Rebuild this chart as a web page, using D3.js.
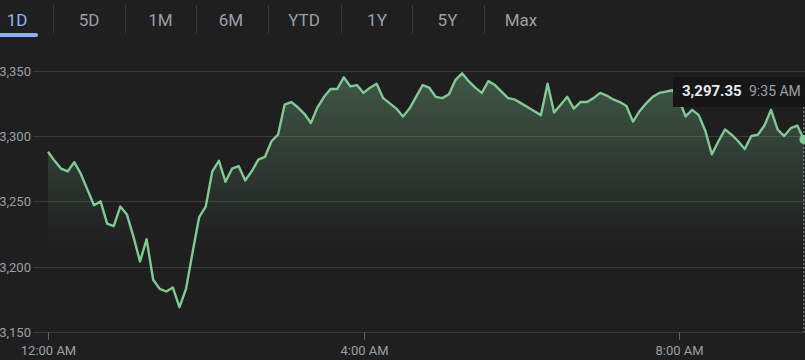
<!DOCTYPE html>
<html>
<head>
<meta charset="utf-8">
<script src="https://cdn.jsdelivr.net/npm/d3@7"></script>
<style>
  html, body { margin: 0; padding: 0; background: #1f1f1f; }
  #chart { width: 805px; height: 360px; }
</style>
</head>
<body>
<div id="chart"></div>
<script>
/* ── Data ────────────────────────────────────────────────────────────── */
const RANGE_TABS  = ['1D', '5D', '1M', '6M', 'YTD', '1Y', '5Y', 'Max'];
const Y_TICKS     = [3150, 3200, 3250, 3300, 3350];
const X_TICKS     = [0, 240, 480];               // minutes after midnight
const X_LABELS    = ['12:00 AM', '4:00 AM', '8:00 AM'];
const STEP_MIN    = 5;                           // one quote every 5 minutes
const PRICES = [
  3288, 3281, 3275, 3273, 3280, 3271, 3259, 3247, 3250, 3233,
  3231, 3246, 3240, 3223, 3204, 3221, 3190, 3183, 3181, 3184,
  3169, 3183, 3211, 3238, 3246, 3273, 3281, 3265, 3275, 3277,
  3266, 3273, 3282, 3284, 3296, 3301, 3324, 3326, 3322, 3317,
  3310, 3322, 3330, 3336, 3336, 3345, 3338, 3339, 3333, 3337,
  3340, 3329, 3325, 3321, 3315, 3321, 3330, 3339, 3337, 3330,
  3329, 3332, 3343, 3348, 3342, 3337, 3333, 3342, 3339, 3334,
  3329, 3328, 3325, 3322, 3319, 3316, 3340, 3318, 3324, 3330,
  3321, 3326, 3326, 3329, 3333, 3331, 3328, 3326, 3323, 3311,
  3319, 3325, 3330, 3333, 3334, 3335, 3328, 3315, 3320, 3316,
  3304, 3286, 3296, 3305, 3301, 3296, 3290, 3300, 3301, 3308,
  3320, 3305, 3300, 3306, 3308, 3297.35
];
const LAST_PRICE  = '3,297.35';
const LAST_TIME   = '9:35 AM';

/* ── Look ────────────────────────────────────────────────────────────── */
const W = 805, H = 360;
const BG     = '#1f1f1f';
const GREEN  = '#81c995';
const GRID   = '#3c3c3c';
const MUTED  = '#9aa0a6';
const BLUE   = '#8ab4f8';
const FONT   = 'Roboto, sans-serif';

const svg = d3.select('#chart').append('svg')
  .attr('width', W).attr('height', H)
  .attr('viewBox', `0 0 ${W} ${H}`);

svg.append('rect').attr('width', W).attr('height', H).attr('fill', BG);

/* ── Range tabs ──────────────────────────────────────────────────────── */
const tabX = d3.scalePoint().domain(RANGE_TABS).range([17, 521]);
// tab widths differ a little in the original, nudge by label
const tabNudge = { '1D': 0, '5D': 0, '1M': -0.5, '6M': -2, 'YTD': -1, '1Y': 0, '5Y': -1.5, 'Max': 0 };

const tabs = svg.append('g').attr('class', 'tabs');
RANGE_TABS.forEach((t, i) => {
  const cx = tabX(t) + tabNudge[t];
  tabs.append('text')
    .attr('x', cx).attr('y', 26)
    .attr('text-anchor', 'middle')
    .attr('font-family', FONT).attr('font-size', '17px')
    .attr('fill', i === 0 ? BLUE : MUTED)
    .text(t);
  if (i < RANGE_TABS.length - 1) {
    const nx = tabX(RANGE_TABS[i + 1]) + tabNudge[RANGE_TABS[i + 1]];
    const sx = Math.round((cx + nx) / 2) + 0.5;
    tabs.append('line')
      .attr('x1', sx).attr('x2', sx).attr('y1', 5).attr('y2', 33)
      .attr('stroke', GRID).attr('stroke-width', 1);
  }
});
tabs.append('rect')
  .attr('x', -4).attr('y', 33).attr('width', 42).attr('height', 4)
  .attr('rx', 2).attr('fill', BLUE);

/* ── Scales ──────────────────────────────────────────────────────────── */
const pts = PRICES.map((v, i) => ({ t: i * STEP_MIN, v }));

const x = d3.scaleLinear().domain([0, 240]).range([48, 363.5]);
const y = d3.scaleLinear().domain([3150, 3350]).range([332, 70.7]);

/* ── Grid + y labels ─────────────────────────────────────────────────── */
const grid = svg.append('g');
Y_TICKS.forEach(v => {
  const gy = Math.round(y(v)) + 0.5;
  grid.append('line')
    .attr('x1', 33).attr('x2', W).attr('y1', gy).attr('y2', gy)
    .attr('stroke', GRID).attr('stroke-width', 1);
  grid.append('text')
    .attr('x', 31).attr('y', gy + 4.5)
    .attr('text-anchor', 'end')
    .attr('font-family', FONT).attr('font-size', '13px')
    .attr('fill', MUTED)
    .text(d3.format(',')(v));
});

/* ── X axis ticks ────────────────────────────────────────────────────── */
X_TICKS.forEach((t, i) => {
  const tx = Math.round(x(t)) + 0.5;
  grid.append('line')
    .attr('x1', tx).attr('x2', tx).attr('y1', y(3150)).attr('y2', y(3150) + 8)
    .attr('stroke', '#5f6368').attr('stroke-width', 1);
  grid.append('text')
    .attr('x', tx).attr('y', 355)
    .attr('text-anchor', 'middle')
    .attr('font-family', FONT).attr('font-size', '13px')
    .attr('fill', MUTED)
    .text(X_LABELS[i]);
});

/* ── Area + line ─────────────────────────────────────────────────────── */
const grad = svg.append('defs').append('linearGradient')
  .attr('id', 'fillGrad')
  .attr('gradientUnits', 'userSpaceOnUse')
  .attr('x1', 0).attr('x2', 0).attr('y1', 70).attr('y2', 245);
grad.append('stop').attr('offset', 0).attr('stop-color', GREEN).attr('stop-opacity', 0.34);
grad.append('stop').attr('offset', 1).attr('stop-color', GREEN).attr('stop-opacity', 0);

svg.append('path')
  .datum(pts)
  .attr('d', d3.area().x(d => x(d.t)).y0(y(3150)).y1(d => y(d.v)))
  .attr('fill', 'url(#fillGrad)');

svg.append('path')
  .datum(pts)
  .attr('d', d3.line().x(d => x(d.t)).y(d => y(d.v)))
  .attr('fill', 'none')
  .attr('stroke', GREEN)
  .attr('stroke-width', 2.4)
  .attr('stroke-linejoin', 'round');

/* ── Hover readout at the last point ─────────────────────────────────── */
const last = pts[pts.length - 1];
const lx = x(last.t), ly = y(last.v);

svg.append('line')
  .attr('x1', lx).attr('x2', lx).attr('y1', 107).attr('y2', y(3150))
  .attr('stroke', MUTED).attr('stroke-width', 1)
  .attr('stroke-dasharray', '2,2');

svg.append('rect')
  .attr('x', 673).attr('y', 77).attr('width', W - 673).attr('height', 30)
  .attr('fill', '#161616');

svg.append('text')
  .attr('x', 682).attr('y', 96)
  .attr('font-family', FONT).attr('font-size', '15px').attr('font-weight', 700)
  .attr('fill', '#e8eaed')
  .text(LAST_PRICE);
svg.append('text')
  .attr('x', 749).attr('y', 96)
  .attr('font-family', FONT).attr('font-size', '14px')
  .attr('fill', MUTED)
  .text(LAST_TIME);

svg.append('circle')
  .attr('cx', lx).attr('cy', ly).attr('r', 4.5)
  .attr('fill', GREEN);
</script>
</body>
</html>
